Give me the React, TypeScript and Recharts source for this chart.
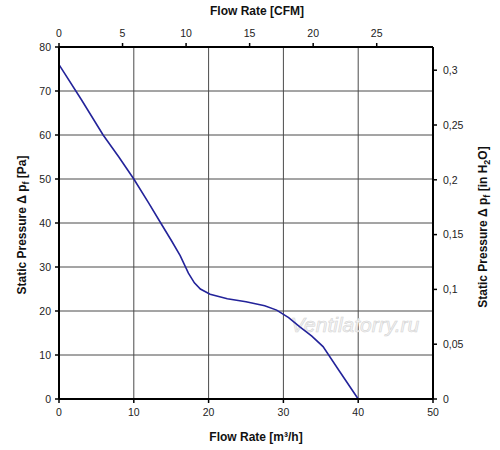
import React from "react";
import { LineChart, Line, XAxis, YAxis, CartesianGrid, Label, Customized } from "recharts";

// Fan curve: flow in m³/h against static pressure in Pa.
const flow = [0, 3, 5.9, 8, 10, 12, 13.6, 15.1, 16.2, 17.3, 18.1, 18.9, 20.2, 22.5, 25, 27.5, 29.1, 30.7, 32.2, 33.8, 35.3, 37.5, 40];
const pressure = [76, 68, 60, 55, 50, 44.5, 40, 35.8, 32.6, 28.6, 26.4, 25, 23.8, 22.8, 22.1, 21.2, 20.2, 18.5, 16.4, 14.3, 11.9, 6.3, 0];

const m3hTicks = [0, 10, 20, 30, 40, 50];
const cfmTicks = [0, 5, 10, 15, 20, 25];
const paTicks = [0, 10, 20, 30, 40, 50, 60, 70, 80];
const inH2OTicks = [0, 0.05, 0.1, 0.15, 0.2, 0.25, 0.3];

const M3H_PER_CFM = 1.699;
const PA_PER_INH2O = 249.09;

const rows = flow.map((f, i) => ({
  m3h: f,
  pa: pressure[i],
  cfm: f / M3H_PER_CFM,
  inh2o: pressure[i] / PA_PER_INH2O,
}));

const FONT = "'Liberation Sans', Arial, sans-serif";
const tick = { fill: "#222", fontSize: 10.5, fontFamily: FONT };
const axisLine = { stroke: "#000", strokeWidth: 2 };
const tickLine = { stroke: "#000", strokeWidth: 1.5 };

const titleStyle = { fontFamily: FONT, fontSize: 12, fontWeight: 700, fill: "#111" } as const;

function HTitle({ x, y, children }: { x: number; y: number; children: React.ReactNode }) {
  return (
    <text x={x} y={y} textAnchor="middle" style={titleStyle}>
      {children}
    </text>
  );
}

function VTitle({ x, y, children }: { x: number; y: number; children: React.ReactNode }) {
  return (
    <text x={x} y={y} textAnchor="middle" transform={`rotate(-90 ${x} ${y})`} style={titleStyle}>
      {children}
    </text>
  );
}

const comma = (v: number) => String(v).replace(".", ",");

export default function App() {
  return (
    <div style={{ position: "absolute", left: 0, top: 0, background: "#fff" }}>
      <LineChart width={500} height={450} data={rows} margin={{ top: 0, right: 0, bottom: 0, left: 0 }}>
        <CartesianGrid xAxisId="bottom" yAxisId="left" stroke="#4a4a4a" strokeWidth={1} />
        <XAxis
          xAxisId="bottom" dataKey="m3h" type="number" orientation="bottom"
          domain={[0, 50]} ticks={m3hTicks} height={51}
          tick={tick} axisLine={axisLine} tickLine={tickLine} tickSize={4} tickMargin={6}
        >
          <Label
            content={(p: any) => (
              <HTitle x={p.viewBox.x + p.viewBox.width / 2 + 10} y={p.viewBox.y + 42}>
                Flow Rate [m³/h]
              </HTitle>
            )}
          />
        </XAxis>
        <XAxis
          xAxisId="top" dataKey="cfm" type="number" orientation="top"
          domain={[0, 50 / M3H_PER_CFM]} ticks={cfmTicks} height={47} allowDataOverflow
          tick={tick} axisLine={axisLine} tickLine={tickLine} tickSize={4} tickMargin={6}
        >
          <Label
            content={(p: any) => (
              <HTitle x={p.viewBox.x + p.viewBox.width / 2 + 11} y={15}>
                Flow Rate [CFM]
              </HTitle>
            )}
          />
        </XAxis>
        <YAxis
          yAxisId="left" type="number" orientation="left"
          domain={[0, 80]} ticks={paTicks} width={59}
          tick={tick} axisLine={axisLine} tickLine={tickLine} tickSize={4} tickMargin={4}
        >
          <Label
            content={(p: any) => (
              <VTitle x={26} y={p.viewBox.y + p.viewBox.height / 2 + 2}>
                Static Pressure Δ p<tspan fontSize={9} dy={3}>f</tspan>
                <tspan dy={-3}> [Pa]</tspan>
              </VTitle>
            )}
          />
        </YAxis>
        <YAxis
          yAxisId="right" type="number" orientation="right"
          domain={[0, 80 / PA_PER_INH2O]} ticks={inH2OTicks} width={67} allowDataOverflow
          tickFormatter={comma}
          tick={tick} axisLine={axisLine} tickLine={tickLine} tickSize={4} tickMargin={6}
        >
          <Label
            content={(p: any) => (
              <VTitle x={487} y={p.viewBox.y + p.viewBox.height / 2 + 4}>
                Static Pressure Δ p<tspan fontSize={9} dy={3}>f</tspan>
                <tspan dy={-3}> [in H</tspan>
                <tspan fontSize={9} dy={3}>2</tspan>
                <tspan dy={-3}>O]</tspan>
              </VTitle>
            )}
          />
        </YAxis>
        <Customized
          component={() => (
            <text
              x={355} y={332} textAnchor="middle"
              style={{ fontFamily: FONT, fontSize: 21, fontStyle: "italic", fill: "#f4f4f4", stroke: "#d4d4d4", strokeWidth: 0.6 }}
            >
              Ventilatorry.ru
            </text>
          )}
        />
        <Line
          xAxisId="top" yAxisId="right" dataKey="inh2o" stroke="none" dot={false}
          activeDot={false} isAnimationActive={false}
        />
        <Line
          xAxisId="bottom" yAxisId="left" dataKey="pa" type="linear"
          stroke="#23239a" strokeWidth={1.6} dot={false} activeDot={false} isAnimationActive={false}
        />
      </LineChart>
    </div>
  );
}
